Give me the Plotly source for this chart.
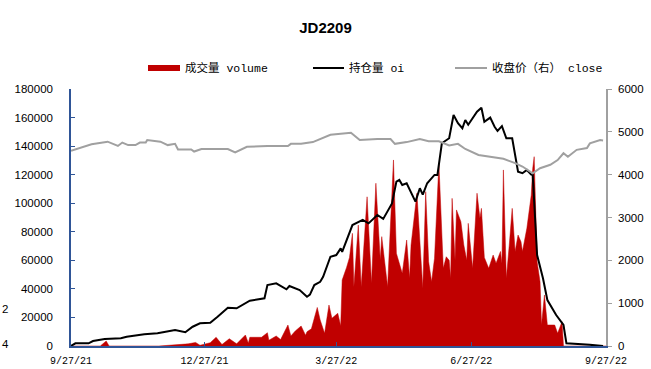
import pandas as pd
import plotly.graph_objects as go

BASE = pd.Timestamp("2021-09-27")

# ---- data (day offset from 9/27/21, value) ----
vol_day = [0, 20, 24, 26, 60, 70, 80, 85, 88, 95, 99, 103, 108, 113, 119, 121, 122, 130, 134, 135,
           140, 143, 148, 150, 153, 157, 160, 161, 164, 168, 170, 173, 176, 178, 182, 184, 185, 188,
           190, 192, 193, 196, 198, 202, 205, 208, 211, 212, 216, 220, 222, 226, 229, 231, 232, 236,
           240, 242, 244, 246, 248, 251, 254, 256, 258, 259, 260, 262, 263, 266, 268, 270, 271, 274,
           277, 279, 280, 282, 285, 288, 290, 293, 294, 295, 297, 299, 301, 303, 305, 307, 308, 311,
           314, 315, 316, 318, 320, 321, 323, 325, 330, 332, 335, 336, 365]
vol_val = [0, 0, 3500, 0, 0, 800, 1500, 2500, 500, 2300, 6100, 1000, 5100, 1500, 7700, 2000, 6100, 6100, 9300, 4000,
           7000, 4500, 14700, 7000, 10500, 14000, 7500, 10000, 12000, 27000, 18200, 8900, 28700, 19400, 22900, 14000, 46200, 55000,
           62000, 78900, 41500, 84700, 41500, 104500, 43900, 114000, 60200, 76600, 41500, 130300, 64900, 50900, 74200, 47400, 70700, 107000,
           40400, 108100, 59000, 45000, 61400, 128000, 54400, 62500, 60000, 47400, 103400, 60000, 95300, 87100, 70700, 60000, 85900, 54400,
           107000, 89400, 96400, 62000, 54400, 63700, 58000, 66200, 58000, 123300, 47400, 70700, 96400, 66200, 77700, 73000, 66200, 82400,
           105700, 124400, 132600, 59000, 45000, 14700, 35700, 14700, 14700, 8900, 17000, 0, 0]

oi_day = [0, 3, 12, 15, 23, 34, 38, 50, 59, 71, 78, 83, 88, 95, 100, 107, 113, 122, 132, 134,
          140, 147, 149, 156, 161, 163, 166, 170, 172, 177, 181, 184, 185, 192, 199, 203, 209, 213,
          219, 222, 224, 226, 229, 232, 235, 238, 240, 243, 248, 250, 253, 258, 261, 264, 267, 269,
          271, 277, 280, 282, 286, 289, 291, 294, 297, 301, 303, 305, 308, 311, 314, 315, 318, 322,
          325, 331, 336, 338, 354, 361, 363]
oi_val = [0, 1900, 1900, 3500, 4900, 5400, 6500, 8200, 8900, 11200, 9600, 13500, 15900, 16300, 20500, 26800, 26400, 31700, 33400, 42700,
          43900, 39700, 42000, 39200, 34500, 36000, 42700, 45000, 48500, 62500, 63700, 68400, 66000, 84700, 88300, 85900, 91800, 89000,
          99900, 115100, 116300, 112800, 114000, 108000, 101100, 110500, 106000, 114000, 119800, 119800, 142000, 145500, 161800, 156000, 152500, 158300,
          155000, 164100, 166900, 157100, 160000, 153600, 150600, 154000, 145500, 145500, 135000, 122100, 121000, 123300, 120000, 119800, 63700, 47400,
          32200, 21700, 14700, 1900, 800, 0, 0]

close_day = [0, 14, 25, 32, 35, 39, 44, 47, 51, 52, 61, 66, 71, 73, 82, 84, 89, 93, 107, 112,
             120, 134, 148, 150, 157, 165, 167, 177, 191, 197, 209, 218, 221, 229, 238, 244, 251, 258,
             264, 269, 278, 292, 295, 303, 308, 315, 320, 327, 332, 336, 339, 345, 352, 354, 361, 363]
close_val = [4560, 4710, 4770, 4670, 4750, 4690, 4690, 4750, 4750, 4810, 4770, 4690, 4720, 4590, 4590, 4540, 4600, 4600, 4600, 4520,
             4650, 4670, 4670, 4720, 4720, 4760, 4790, 4930, 4980, 4810, 4830, 4830, 4720, 4760, 4830, 4780, 4780, 4680,
             4720, 4600, 4460, 4400, 4370, 4270, 4190, 4030, 4150, 4230, 4340, 4500, 4420, 4580, 4620, 4730, 4810, 4800]

tick_dates = ["2021-09-27", "2021-12-27", "2022-03-27", "2022-06-27", "2022-09-27"]
tick_text = ["9/27/21", "12/27/21", "3/27/22", "6/27/22", "9/27/22"]

names = ["成交量 volume", "持仓量 oi", "收盘价（右） close"]


def to_dates(days):
    return BASE + pd.to_timedelta(days, unit="D")


AX_BLUE = "#2F5597"
GRAY = "#A0A0A0"
MONO = "Liberation Mono, Noto Sans CJK SC, monospace"
SANS = "Liberation Sans, Arial, sans-serif"

fig = go.Figure()
fig.add_trace(go.Scatter(x=to_dates(vol_day), y=vol_val, name=names[0], mode="lines",
                         line=dict(color="#C00000", width=0.5), fill="tozeroy",
                         fillcolor="#C00000", showlegend=False))
fig.add_trace(go.Scatter(x=to_dates(oi_day), y=oi_val, name=names[1], mode="lines",
                         line=dict(color="black", width=2), showlegend=False))
fig.add_trace(go.Scatter(x=to_dates(close_day), y=close_val, name=names[2], mode="lines",
                         line=dict(color=GRAY, width=2), yaxis="y2", showlegend=False))

L, R, T, B = 71, 45, 89, 23
W, H = 651, 369
pw, ph = W - L - R, H - T - B


def px_x(x):
    return (x - L) / pw


def px_y(y):
    return (H - B - y) / ph


shapes = [
    dict(type="rect", xref="paper", yref="paper", x0=px_x(148), x1=px_x(180),
         y0=px_y(71), y1=px_y(65), fillcolor="#C00000", line=dict(width=0)),
    dict(type="line", xref="paper", yref="paper", x0=px_x(313), x1=px_x(344),
         y0=px_y(68), y1=px_y(68), line=dict(color="black", width=2)),
    dict(type="line", xref="paper", yref="paper", x0=px_x(455), x1=px_x(487),
         y0=px_y(68), y1=px_y(68), line=dict(color=GRAY, width=2)),
]
annotations = [
    dict(text=names[0], x=px_x(183), y=px_y(68), xref="paper", yref="paper",
         xanchor="left", yanchor="middle", showarrow=False, font=dict(family=MONO, size=11.5, color="black")),
    dict(text=names[1], x=px_x(347), y=px_y(68), xref="paper", yref="paper",
         xanchor="left", yanchor="middle", showarrow=False, font=dict(family=MONO, size=11.5, color="black")),
    dict(text=names[2], x=px_x(490), y=px_y(68), xref="paper", yref="paper",
         xanchor="left", yanchor="middle", showarrow=False, font=dict(family=MONO, size=11.5, color="black")),
    dict(text="2", x=px_x(0), y=px_y(309), xref="paper", yref="paper",
         xanchor="left", yanchor="middle", showarrow=False, font=dict(family=SANS, size=11.5, color="black")),
    dict(text="4", x=px_x(0), y=px_y(344), xref="paper", yref="paper",
         xanchor="left", yanchor="middle", showarrow=False, font=dict(family=SANS, size=11.5, color="black")),
]

fig.update_layout(
    width=W, height=H,
    margin=dict(l=L, r=R, t=T, b=B, autoexpand=False),
    paper_bgcolor="white", plot_bgcolor="white",
    title=dict(text="<b>JD2209</b>", x=0.5, xanchor="center", y=1 - 28 / H, yanchor="middle",
               font=dict(family="Liberation Sans Narrow, Liberation Sans, Arial", size=15, color="black")),
    showlegend=False,
    shapes=shapes,
    annotations=annotations,
    xaxis=dict(type="date", range=[tick_dates[0], tick_dates[-1]], tickvals=tick_dates, ticktext=tick_text,
               ticks="inside", ticklen=4, tickcolor=AX_BLUE, showline=True, linecolor=AX_BLUE, linewidth=1.5,
               showgrid=False, zeroline=False, ticklabelstandoff=4, automargin=False,
               tickfont=dict(family=MONO, size=10, color="black")),
    yaxis=dict(range=[0, 180000], dtick=20000, tick0=0, tickformat="d", ticks="inside", ticklen=4,
               tickcolor=AX_BLUE, showline=True, linecolor=AX_BLUE, linewidth=1.5, showgrid=False,
               zeroline=False, ticklabelstandoff=14, automargin=False,
               tickfont=dict(family=SANS, size=11.5, color="black")),
    yaxis2=dict(range=[0, 6000], dtick=1000, tick0=0, tickformat="d", overlaying="y", side="right",
                ticks="outside", ticklen=4, tickcolor=GRAY, showline=True, linecolor=GRAY, linewidth=1.5,
                showgrid=False, zeroline=False, ticklabelstandoff=4, automargin=False,
                tickfont=dict(family=SANS, size=11.5, color="black")),
)

fig.write_html("out.html")
